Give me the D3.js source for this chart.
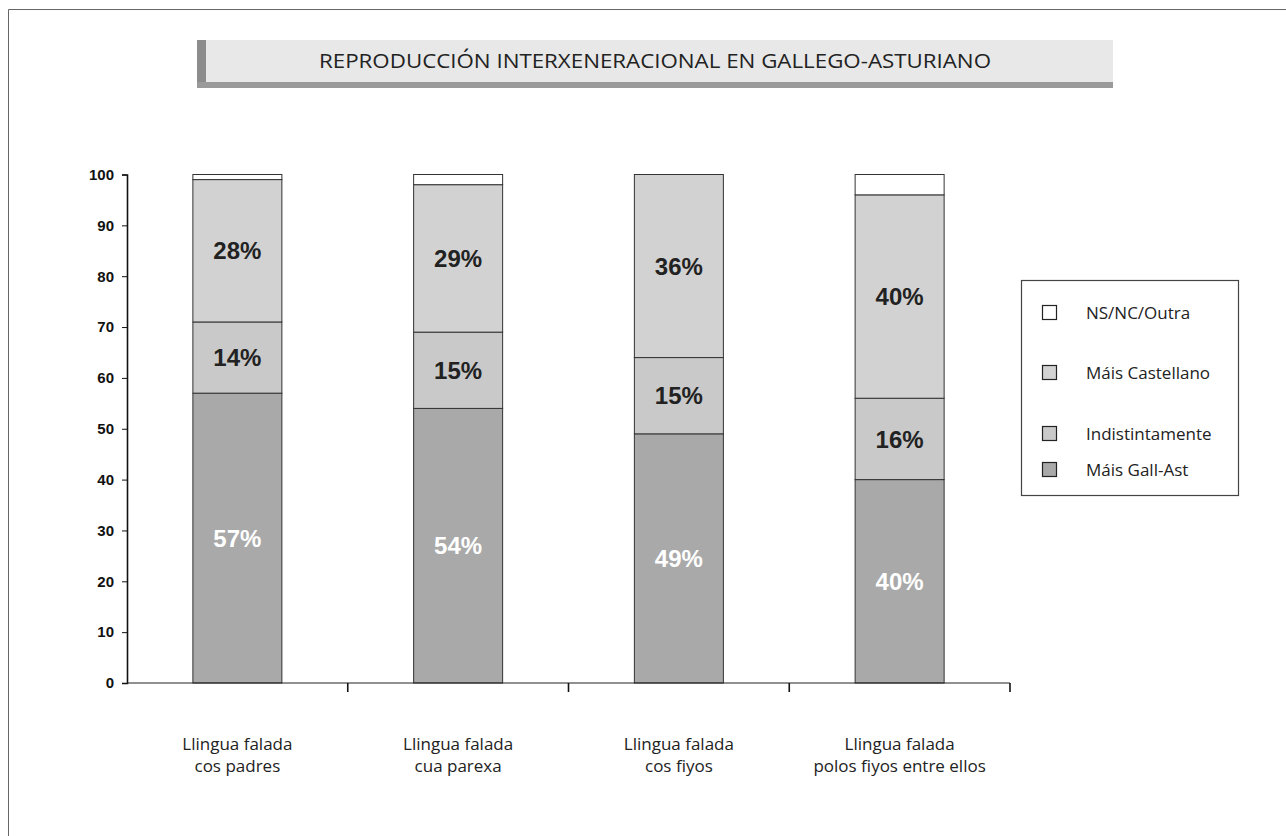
<!DOCTYPE html>
<html>
<head>
<meta charset="utf-8">
<script src="https://cdn.jsdelivr.net/npm/d3@7"></script>
<style>
  body { margin: 0; background: #fff; }
  svg { display: block; }
</style>
</head>
<body>
<svg width="1286" height="836"></svg>
<script>
// data
const categories = [
  ['Llingua falada', 'cos padres'],
  ['Llingua falada', 'cua parexa'],
  ['Llingua falada', 'cos fiyos'],
  ['Llingua falada', 'polos fiyos entre ellos']
];
const seriesNames = ['Máis Gall-Ast', 'Indistintamente', 'Máis Castellano', 'NS/NC/Outra'];
const gallAst = [57, 54, 49, 40];
const indist = [14, 15, 15, 16];
const castellano = [28, 29, 36, 40];
const nsnc = [1, 2, 0, 4];
const yTicks = [0, 10, 20, 30, 40, 50, 60, 70, 80, 90, 100];

const colors = ['#a9a9a9', '#c9c9c9', '#d2d2d2', '#ffffff'];
const labelColors = ['#ffffff', '#222222', '#222222', null];

const svg = d3.select('svg');
const width = +svg.attr('width');
const height = +svg.attr('height');

// outer frame
svg.append('path')
   .attr('d', `M8.5,${height} V9.5 H${width}`)
   .attr('fill', 'none')
   .attr('stroke', '#666')
   .attr('stroke-width', 1);

// title box
const title = svg.append('g').attr('class', 'title');
title.append('rect')
     .attr('x', 197).attr('y', 40).attr('width', 916).attr('height', 48)
     .attr('fill', '#e8e8e8');
title.append('rect')
     .attr('x', 197).attr('y', 40).attr('width', 9).attr('height', 48)
     .attr('fill', '#8c8c8c');
title.append('rect')
     .attr('x', 197).attr('y', 82).attr('width', 916).attr('height', 6)
     .attr('fill', '#9a9a9a');
title.append('text')
     .attr('x', 655).attr('y', 68)
     .attr('text-anchor', 'middle')
     .attr('font-family', 'Open Sans, sans-serif')
     .attr('font-size', 20)
     .attr('fill', '#222')
     .attr('textLength', 672)
     .attr('lengthAdjust', 'spacingAndGlyphs')
     .text('REPRODUCCIÓN INTERXENERACIONAL EN GALLEGO-ASTURIANO');

// scales
const x = d3.scaleBand()
            .domain(d3.range(categories.length))
            .range([127, 1010]);
const y = d3.scaleLinear().domain([0, 100]).range([683, 174.5]);
const barWidth = 89;

// stack
const rows = categories.map((c, i) => ({
  i, s0: gallAst[i], s1: indist[i], s2: castellano[i], s3: nsnc[i]
}));
const stack = d3.stack().keys(['s0', 's1', 's2', 's3'])(rows);

const bars = svg.append('g').attr('class', 'bars');
stack.forEach((layer, k) => {
  bars.selectAll(null)
      .data(layer)
      .enter()
      .append('rect')
      .attr('x', d => x(d.data.i) + x.bandwidth() / 2 - barWidth / 2)
      .attr('y', d => y(d[1]))
      .attr('width', barWidth)
      .attr('height', d => y(d[0]) - y(d[1]))
      .attr('fill', colors[k])
      .attr('stroke', '#333')
      .attr('stroke-width', 1);
});

// percentage labels
stack.forEach((layer, k) => {
  if (!labelColors[k]) return;
  bars.selectAll(null)
      .data(layer)
      .enter()
      .append('text')
      .attr('x', d => x(d.data.i) + x.bandwidth() / 2)
      .attr('y', d => y((d[0] + d[1]) / 2))
      .attr('dy', '0.36em')
      .attr('text-anchor', 'middle')
      .attr('font-family', 'Liberation Sans, Arial, sans-serif')
      .attr('font-weight', 'bold')
      .attr('font-size', 24)
      .attr('fill', labelColors[k])
      .text(d => Math.round(d[1] - d[0]) + '%');
});

// y axis
const yAxis = svg.append('g')
   .attr('transform', 'translate(127,0)')
   .call(d3.axisLeft(y).tickValues(yTicks).tickSize(5).tickPadding(8));
yAxis.select('.domain').attr('stroke', '#111').attr('stroke-width', 1.6);
yAxis.selectAll('.tick line').attr('stroke', '#111');
yAxis.selectAll('.tick text')
     .attr('font-family', 'Liberation Sans, Arial, sans-serif')
     .attr('font-weight', 'bold')
     .attr('font-size', 15)
     .attr('fill', '#111');

// x axis
const xAxis = svg.append('g').attr('transform', 'translate(0,683)');
xAxis.append('line')
     .attr('x1', 127).attr('x2', 1010)
     .attr('stroke', '#222').attr('stroke-width', 1.2);
xAxis.selectAll('.xtick')
     .data(d3.range(categories.length))
     .enter()
     .append('line')
     .attr('x1', d => x(d) + x.bandwidth())
     .attr('x2', d => x(d) + x.bandwidth())
     .attr('y1', 0).attr('y2', 9)
     .attr('stroke', '#111').attr('stroke-width', 1.6);

const catLabels = svg.append('g').attr('class', 'categories');
categories.forEach((lines, i) => {
  const t = catLabels.append('text')
     .attr('x', x(i) + x.bandwidth() / 2)
     .attr('y', 750)
     .attr('text-anchor', 'middle')
     .attr('font-family', 'Open Sans, sans-serif')
     .attr('font-size', 17)
     .attr('fill', '#222');
  lines.forEach((line, j) => {
    t.append('tspan')
     .attr('x', x(i) + x.bandwidth() / 2)
     .attr('dy', j === 0 ? 0 : 22)
     .text(line);
  });
});

// legend
const legend = svg.append('g').attr('class', 'legend');
legend.append('rect')
      .attr('x', 1021.5).attr('y', 280.5).attr('width', 217).attr('height', 215)
      .attr('fill', '#fff').attr('stroke', '#444').attr('stroke-width', 1.2);
const legendY = [313, 373, 434, 470];
const legendOrder = [3, 2, 1, 0];
legendOrder.forEach((k, r) => {
  legend.append('rect')
        .attr('x', 1042.5).attr('y', legendY[r] - 7.5)
        .attr('width', 14).attr('height', 14)
        .attr('fill', colors[k])
        .attr('stroke', '#222').attr('stroke-width', 1.2);
  legend.append('text')
        .attr('x', 1086).attr('y', legendY[r])
        .attr('dy', '0.36em')
        .attr('font-family', 'Open Sans, sans-serif')
        .attr('font-size', 17)
        .attr('fill', '#222')
        .text(seriesNames[k]);
});
</script>
</body>
</html>
